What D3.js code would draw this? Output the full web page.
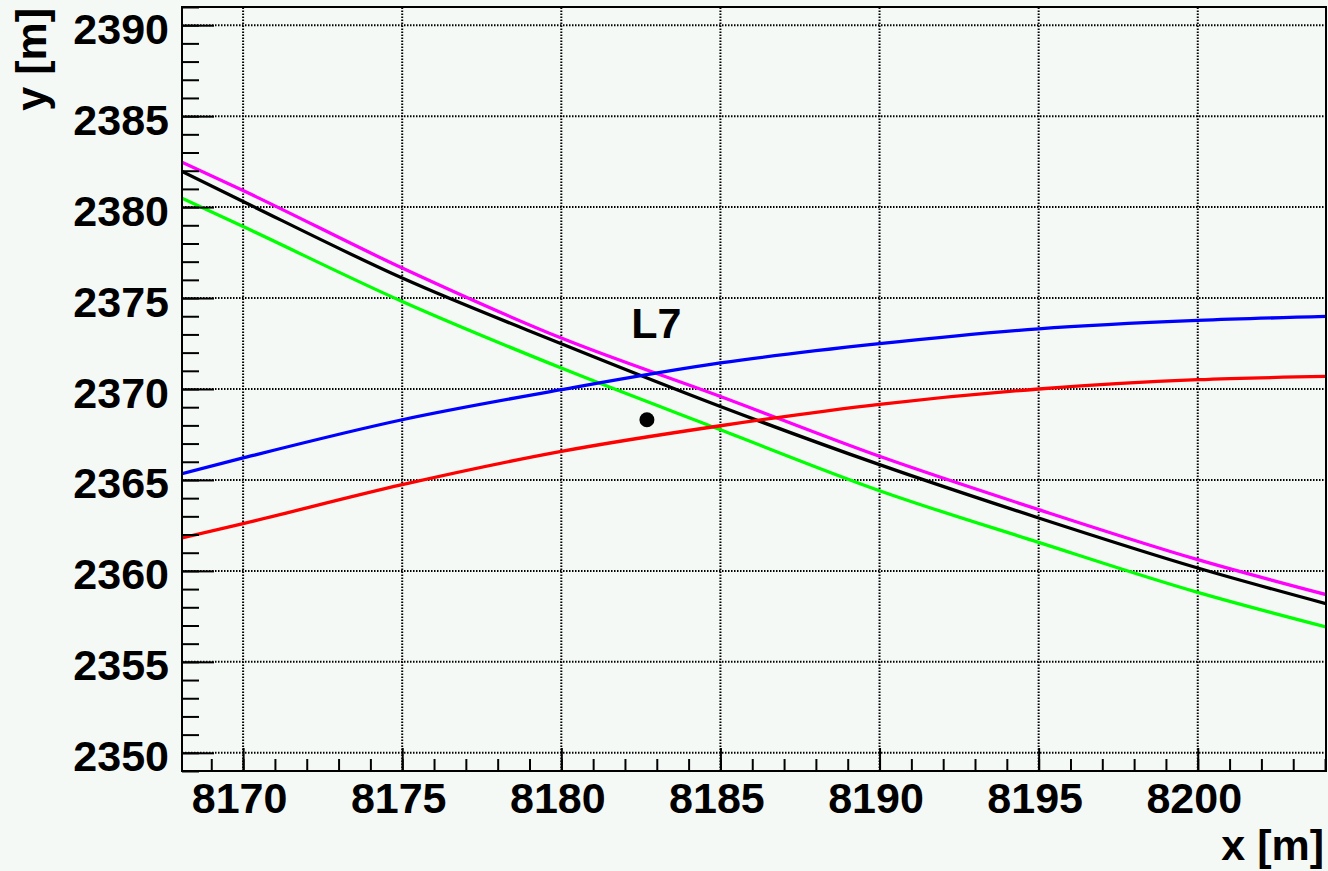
<!DOCTYPE html>
<html>
<head>
<meta charset="utf-8">
<script src="https://cdn.jsdelivr.net/npm/d3@7"></script>
<style>
  html, body { margin: 0; padding: 0; background: #f4f9f6; }
  svg { display: block; }
  text { font-family: "Liberation Sans", Arial, Helvetica, sans-serif; font-weight: bold; fill: #000; }
</style>
</head>
<body>
<svg id="chart" width="1328" height="871"></svg>
<script>
// ---- data ----
const xSamples = [8168.08, 8170, 8175, 8180, 8185, 8190, 8195, 8200, 8204.03];
const magentaY = [2382.47, 2380.91, 2376.65, 2372.80, 2369.59, 2366.30, 2363.37, 2360.62, 2358.70];
const blackY   = [2381.96, 2380.31, 2376.10, 2372.49, 2369.04, 2365.84, 2362.91, 2360.16, 2358.20];
const greenY   = [2380.49, 2378.93, 2374.81, 2371.15, 2367.76, 2364.41, 2361.57, 2358.82, 2356.92];
const blueY    = [2365.35, 2366.21, 2368.31, 2369.96, 2371.43, 2372.49, 2373.31, 2373.77, 2373.99];
const redY     = [2361.81, 2362.60, 2364.74, 2366.57, 2367.98, 2369.16, 2370.00, 2370.51, 2370.69];
const seriesNames = ["green", "magenta", "black", "red", "blue"];
const seriesColors = ["#00ff00", "#ff00ff", "#000000", "#ff0000", "#0000ff"];
const seriesValues = [greenY, magentaY, blackY, redY, blueY];

const xDomain = [8168.08, 8204.03];
const yDomain = [2349, 2391];
const xMajorTicks = [8170, 8175, 8180, 8185, 8190, 8195, 8200];
const yMajorTicks = [2350, 2355, 2360, 2365, 2370, 2375, 2380, 2385, 2390];
const xMinorTicks = d3.range(8169, 8205, 1);
const yMinorTicks = d3.range(2349, 2392, 1);

const markerPoint = { x: 8182.69, y: 2368.31 };
const annotationLabel = { text: "L7", x: 8182.2, y: 2372.82 };
const xTitle = "x [m]";
const yTitle = "y [m]";

// ---- layout ----
const L = 182, R = 1326, T = 7, B = 771;
const FS = 43;

const svg = d3.select("#chart");
svg.append("rect").attr("width", 1328).attr("height", 871).attr("fill", "#f4f9f6");

const x = d3.scaleLinear().domain(xDomain).range([L, R]);
const y = d3.scaleLinear().domain(yDomain).range([B, T]);

// grid
const grid = svg.append("g").attr("stroke", "#000").attr("stroke-width", 2)
  .attr("stroke-dasharray", "1.5 1.5");
grid.selectAll("line.v").data(xMajorTicks).join("line")
  .attr("x1", d => x(d)).attr("x2", d => x(d)).attr("y1", B).attr("y2", T);
grid.selectAll("line.h").data(yMajorTicks).join("line")
  .attr("y1", d => y(d)).attr("y2", d => y(d)).attr("x1", L).attr("x2", R);

// curves
const line = d3.line().x((d, i) => x(xSamples[i])).y(d => y(d)).curve(d3.curveMonotoneX);
const clip = svg.append("clipPath").attr("id", "clip").append("rect")
  .attr("x", L).attr("y", T).attr("width", R - L).attr("height", B - T);
svg.append("g").attr("clip-path", "url(#clip)")
  .selectAll("path").data(seriesValues).join("path")
  .attr("d", d => line(d))
  .attr("fill", "none")
  .attr("stroke", (d, i) => seriesColors[i])
  .attr("stroke-width", 3.3);

// marker
svg.append("circle").attr("cx", x(markerPoint.x)).attr("cy", y(markerPoint.y))
  .attr("r", 7.5).attr("fill", "#000");

svg.append("text").attr("x", x(annotationLabel.x)).attr("y", y(annotationLabel.y))
  .attr("font-size", FS).text(annotationLabel.text);

// axes
function styleAxis(g) {
  g.select(".domain").remove();
  g.selectAll(".tick line").attr("stroke", "#000").attr("stroke-width", 2);
}
const xMinor = svg.append("g").attr("transform", `translate(0,${B})`)
  .call(d3.axisBottom(x).tickValues(xMinorTicks).tickSize(-12).tickFormat(""));
styleAxis(xMinor);
const xMajor = svg.append("g").attr("transform", `translate(0,${B})`)
  .call(d3.axisBottom(x).tickValues(xMajorTicks).tickSize(-23).tickFormat(d3.format("d")));
styleAxis(xMajor);
xMajor.selectAll(".tick text").attr("y", 42).attr("dy", 0).attr("dx", -4)
  .attr("font-size", FS).attr("font-family", null);

const yMinor = svg.append("g").attr("transform", `translate(${L},0)`)
  .call(d3.axisLeft(y).tickValues(yMinorTicks).tickSize(-17).tickFormat(""));
styleAxis(yMinor);
const yMajor = svg.append("g").attr("transform", `translate(${L},0)`)
  .call(d3.axisLeft(y).tickValues(yMajorTicks).tickSize(-32).tickFormat(d3.format("d")));
styleAxis(yMajor);
yMajor.selectAll(".tick text").attr("x", -13).attr("dy", 18)
  .attr("font-size", FS).attr("font-family", null);

// frame
svg.append("rect").attr("x", L).attr("y", T).attr("width", R - L).attr("height", B - T)
  .attr("fill", "none").attr("stroke", "#000").attr("stroke-width", 2);

// titles
svg.append("text").attr("x", 1324).attr("y", 860).attr("text-anchor", "end")
  .attr("font-size", FS).text(xTitle);
svg.append("text").attr("transform", "translate(46,8) rotate(-90)")
  .attr("text-anchor", "end").attr("font-size", FS).text(yTitle);
</script>
</body>
</html>
